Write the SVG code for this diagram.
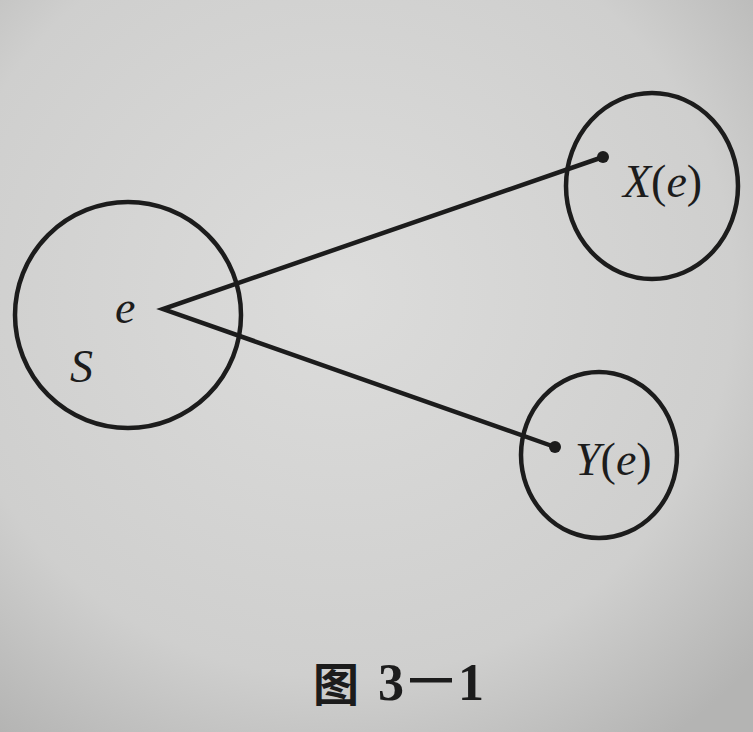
<svg xmlns="http://www.w3.org/2000/svg" width="753" height="732" viewBox="0 0 753 732">
  <defs>
    <radialGradient id="paper" cx="0.45" cy="0.4" r="0.75">
      <stop offset="0" stop-color="#dcdcdb"/>
      <stop offset="0.7" stop-color="#cfcfce"/>
      <stop offset="1" stop-color="#b4b4b3"/>
    </radialGradient>
    <style>
      .ring { fill: none; stroke: #1c1c1c; stroke-width: 4.5; }
      .edge { fill: none; stroke: #1c1c1c; stroke-width: 4.5; stroke-linecap: round; }
      .dot { fill: #1c1c1c; }
      .lbl { font-family: "Liberation Serif", "Times New Roman", serif; font-size: 46px; fill: #1c1c1c; }
      .it { font-style: italic; }
      .cap { font-family: "Liberation Serif", "Times New Roman", serif; font-size: 52px; font-weight: bold; fill: #1c1c1c; }
      .capcjk { font-family: "Noto Sans CJK SC", sans-serif; font-size: 46px; font-weight: bold; fill: #1c1c1c; }
    </style>
  </defs>
  <rect x="0" y="0" width="753" height="732" fill="url(#paper)"/>

  <g id="node-S">
    <ellipse class="ring" cx="128" cy="315" rx="113" ry="113"/>
    <text class="lbl it" x="115" y="323">e</text>
    <text class="lbl it" x="70" y="382">S</text>
  </g>

  <g id="node-X">
    <ellipse class="ring" cx="652" cy="186" rx="86" ry="93"/>
    <text class="lbl" x="623" y="197"><tspan class="it">X</tspan>(<tspan class="it">e</tspan>)</text>
  </g>

  <g id="node-Y">
    <ellipse class="ring" cx="599" cy="455" rx="78" ry="83"/>
    <text class="lbl" x="575" y="475"><tspan class="it">Y</tspan>(<tspan class="it">e</tspan>)</text>
  </g>

  <g id="connectors">
    <polyline class="edge" points="603,157 163,309 555,447"/>
    <circle class="dot" cx="603" cy="157" r="6"/>
    <circle class="dot" cx="555" cy="447" r="6"/>
  </g>

  <g id="caption">
    <text class="capcjk" x="313" y="701">图</text>
    <text class="cap" x="378" y="700">3</text>
    <rect x="410" y="678" width="42" height="4.5" fill="#1c1c1c"/>
    <text class="cap" x="458" y="700">1</text>
  </g>
</svg>
